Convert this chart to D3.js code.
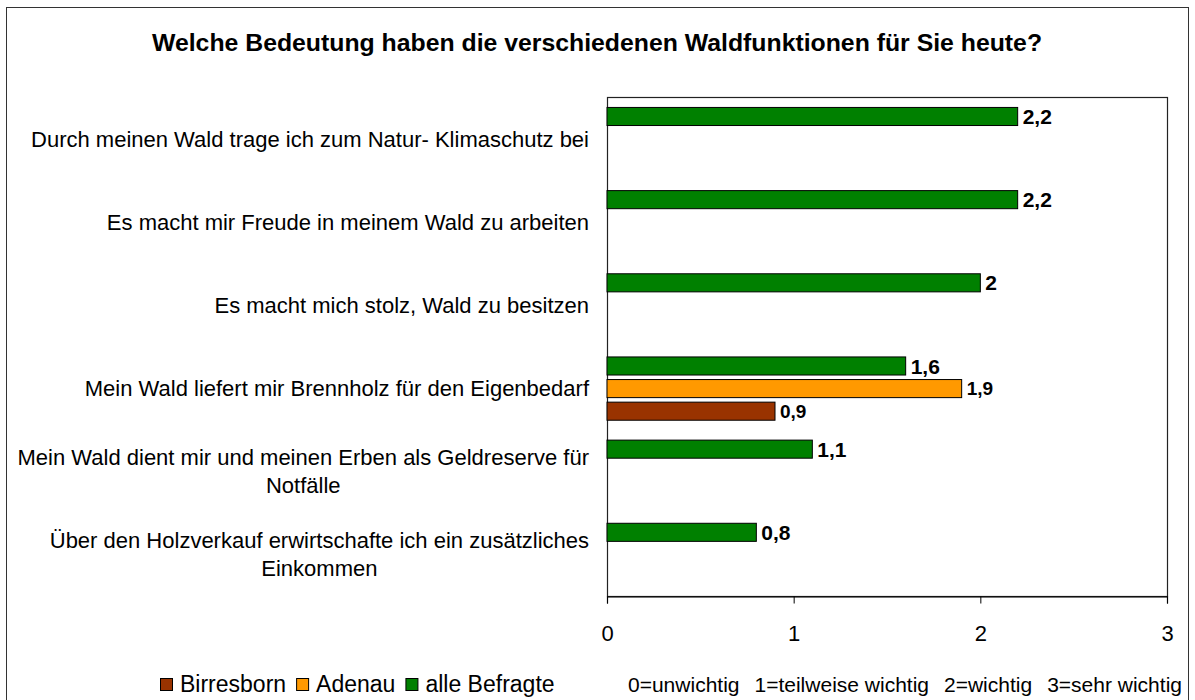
<!DOCTYPE html>
<html>
<head>
<meta charset="utf-8">
<script src="https://cdn.jsdelivr.net/npm/d3@7"></script>
<style>
  html, body { margin: 0; padding: 0; background: #fff; }
  svg { display: block; font-family: "Liberation Sans", Arial, sans-serif; }
</style>
</head>
<body>
<svg id="chart" width="1195" height="700"></svg>
<script>
// Survey items (top to bottom); "\n" marks a line break in the label
const categories = [
  "Durch meinen Wald trage ich zum Natur- Klimaschutz bei",
  "Es macht mir Freude in meinem Wald zu arbeiten",
  "Es macht mich stolz, Wald zu besitzen",
  "Mein Wald liefert mir Brennholz für den Eigenbedarf",
  "Mein Wald dient mir und meinen Erben als Geldreserve für\nNotfälle",
  "Über den Holzverkauf erwirtschafte ich ein zusätzliches\nEinkommen"
];

// Mean importance per group (null = not asked for that group)
const alleBefragte = [2.2, 2.2, 2.0, 1.6, 1.1, 0.8];
const adenau       = [null, null, null, 1.9, null, null];
const birresborn   = [null, null, null, 0.9, null, null];

const seriesNames  = ["Birresborn", "Adenau", "alle Befragte"];
const seriesColors = ["#993300", "#FF9900", "#008000"];

const xTicks = [0, 1, 2, 3];
const scaleNotes = ["0=unwichtig", "1=teilweise wichtig", "2=wichtig", "3=sehr wichtig"];

const title = "Welche Bedeutung haben die verschiedenen Waldfunktionen für Sie heute?";

// ---- layout ----
const svg = d3.select("#chart");
const plot = { left: 607, right: 1167, top: 97, bottom: 596 };

const x = d3.scaleLinear().domain([0, 3]).range([plot.left, plot.right]);
const y = d3.scaleBand().domain(categories).range([plot.top, plot.bottom]).padding(0);

// bars inside each category: top = alle Befragte, then Adenau, then Birresborn
const groupHalf = 33.9;
const inner = d3.scaleBand()
  .domain(["alle Befragte", "Adenau", "Birresborn"])
  .range([-groupHalf, groupHalf])
  .paddingInner(0.2)
  .paddingOuter(0.1);

const seriesValues = {
  "Birresborn": birresborn,
  "Adenau": adenau,
  "alle Befragte": alleBefragte
};
const colorOf = d3.scaleOrdinal().domain(seriesNames).range(seriesColors);

// outer frame
svg.append("rect")
  .attr("x", 6.5).attr("y", 7.5)
  .attr("width", 1182).attr("height", 720)
  .attr("fill", "none").attr("stroke", "#333").attr("stroke-width", 1);

// title
svg.append("text")
  .attr("x", 597).attr("y", 51)
  .attr("text-anchor", "middle")
  .attr("font-weight", "bold")
  .attr("font-size", 24.8)
  .text(title);

// plot area frame
svg.append("rect")
  .attr("x", plot.left + 0.5).attr("y", plot.top + 0.5)
  .attr("width", plot.right - plot.left).attr("height", plot.bottom - plot.top)
  .attr("fill", "#fff").attr("stroke", "#222").attr("stroke-width", 1.2);

// bars
const barData = [];
categories.forEach((c, i) => {
  seriesNames.forEach(s => {
    const v = seriesValues[s][i];
    if (v != null) barData.push({ cat: c, series: s, value: v });
  });
});

const center = c => y(c) + y.bandwidth() / 2;

svg.append("g").selectAll("rect")
  .data(barData)
  .join("rect")
  .attr("x", x(0))
  .attr("y", d => center(d.cat) + inner(d.series) + 0.5)
  .attr("width", d => x(d.value) - x(0))
  .attr("height", inner.bandwidth())
  .attr("fill", d => colorOf(d.series))
  .attr("stroke", "#000")
  .attr("stroke-width", 1);

// value labels
const fmt = v => String(v).replace(".", ",");
svg.append("g").selectAll("text")
  .data(barData)
  .join("text")
  .attr("x", d => x(d.value) + 5)
  .attr("y", d => center(d.cat) + inner(d.series) + inner.bandwidth() / 2 + 0.5)
  .attr("dy", "0.36em")
  .attr("font-weight", "bold")
  .attr("font-size", d => d.series === "alle Befragte" ? 21 : 19)
  .text(d => fmt(d.value));

// category labels: block right-aligned, lines centred inside the block
const labelRight = 589;
const lineGap = 28;
categories.forEach(c => {
  const lines = c.split("\n");
  const t = svg.append("text")
    .attr("font-size", 22)
    .attr("text-anchor", "middle");
  const spans = lines.map((ln, k) =>
    t.append("tspan")
      .attr("y", center(c) + 8 + (k - (lines.length - 1) / 2) * lineGap)
      .text(ln));
  const w = d3.max(spans, s => s.node().getComputedTextLength());
  spans.forEach(s => s.attr("x", labelRight - w / 2));
});

// x axis
const xAxis = d3.axisBottom(x)
  .tickValues(xTicks)
  .tickSize(7)
  .tickPadding(22)
  .tickFormat(d3.format("d"));
const ax = svg.append("g")
  .attr("transform", `translate(0,${plot.bottom + 0.5})`)
  .call(xAxis);
ax.select(".domain").attr("stroke", "#000").attr("stroke-width", 1.2);
ax.selectAll(".tick line").attr("stroke", "#000");
ax.selectAll(".tick text")
  .attr("font-family", "\"Liberation Sans\", Arial, sans-serif")
  .attr("font-size", 22)
  .attr("fill", "#000");

// series legend
const legend = svg.append("g");
let lx = 160;
seriesNames.forEach((s, i) => {
  legend.append("rect")
    .attr("x", lx + 0.5).attr("y", 678.5)
    .attr("width", 12).attr("height", 12)
    .attr("fill", colorOf(s)).attr("stroke", "#000");
  const t = legend.append("text")
    .attr("x", lx + 20).attr("y", 692)
    .attr("font-size", 23)
    .text(s);
  lx += 20 + t.node().getComputedTextLength() + 10;
});

// scale explanation
let nx = 628;
scaleNotes.forEach(n => {
  const t = svg.append("text")
    .attr("x", nx).attr("y", 692)
    .attr("font-size", 21)
    .text(n);
  nx += t.node().getComputedTextLength() + 15;
});
</script>
</body>
</html>
